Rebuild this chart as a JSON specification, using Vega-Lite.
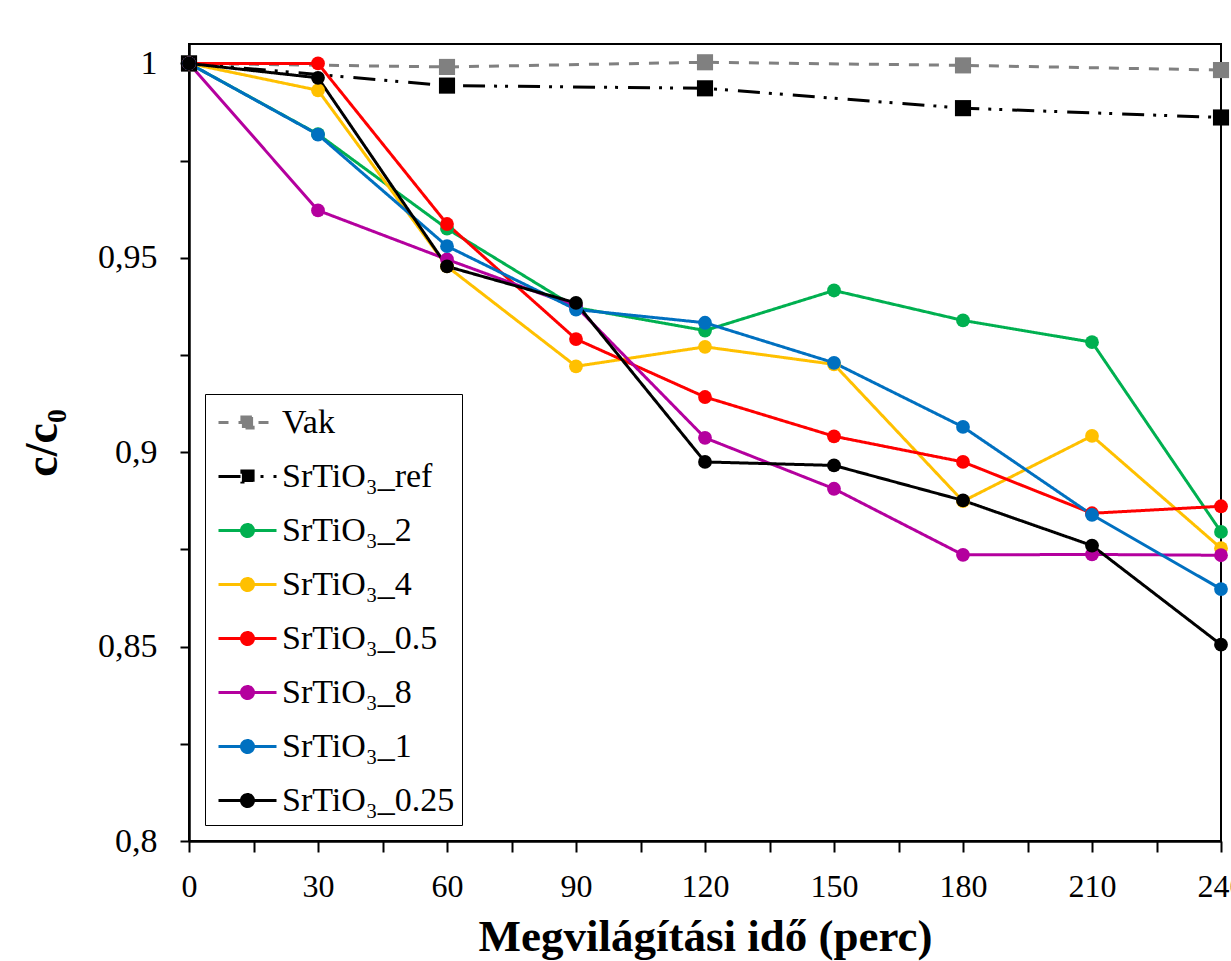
{
  "$schema": "https://vega.github.io/schema/vega-lite/v6.json",
  "width": 1032,
  "height": 797,
  "autosize": {"type": "none"},
  "padding": {"left": 189, "top": 44, "right": 10, "bottom": 120},
  "background": "white",
  "config": {
    "font": "Liberation Serif",
    "view": {"stroke": "black", "strokeWidth": 2},
    "axis": {"domainColor": "black", "domainWidth": 2.5, "tickColor": "black", "tickWidth": 2, "labelColor": "black", "titleColor": "black", "grid": false, "labelFont": "Liberation Serif", "titleFont": "Liberation Serif"}
  },
  "data": {
    "values": [
      {"s": "Vak", "t": 0, "v": 1.0},
      {"s": "Vak", "t": 60, "v": 0.9991},
      {"s": "Vak", "t": 120, "v": 1.0003},
      {"s": "Vak", "t": 180, "v": 0.9995},
      {"s": "Vak", "t": 240, "v": 0.9983},
      {"s": "SrTiO₃_ref", "t": 0, "v": 1.0},
      {"s": "SrTiO₃_ref", "t": 60, "v": 0.9943},
      {"s": "SrTiO₃_ref", "t": 120, "v": 0.9936},
      {"s": "SrTiO₃_ref", "t": 180, "v": 0.9885},
      {"s": "SrTiO₃_ref", "t": 240, "v": 0.9861},
      {"s": "SrTiO₃_2", "t": 0, "v": 1.0},
      {"s": "SrTiO₃_2", "t": 30, "v": 0.9818},
      {"s": "SrTiO₃_2", "t": 60, "v": 0.9575},
      {"s": "SrTiO₃_2", "t": 90, "v": 0.9372},
      {"s": "SrTiO₃_2", "t": 120, "v": 0.9313},
      {"s": "SrTiO₃_2", "t": 150, "v": 0.9416},
      {"s": "SrTiO₃_2", "t": 180, "v": 0.9339},
      {"s": "SrTiO₃_2", "t": 210, "v": 0.9283},
      {"s": "SrTiO₃_2", "t": 240, "v": 0.8795},
      {"s": "SrTiO₃_4", "t": 0, "v": 1.0},
      {"s": "SrTiO₃_4", "t": 30, "v": 0.9931},
      {"s": "SrTiO₃_4", "t": 60, "v": 0.9478},
      {"s": "SrTiO₃_4", "t": 90, "v": 0.9221},
      {"s": "SrTiO₃_4", "t": 120, "v": 0.9271},
      {"s": "SrTiO₃_4", "t": 150, "v": 0.9226},
      {"s": "SrTiO₃_4", "t": 180, "v": 0.8874},
      {"s": "SrTiO₃_4", "t": 210, "v": 0.9042},
      {"s": "SrTiO₃_4", "t": 240, "v": 0.8753},
      {"s": "SrTiO₃_0.5", "t": 0, "v": 1.0},
      {"s": "SrTiO₃_0.5", "t": 30, "v": 1.0},
      {"s": "SrTiO₃_0.5", "t": 60, "v": 0.9587},
      {"s": "SrTiO₃_0.5", "t": 90, "v": 0.9291},
      {"s": "SrTiO₃_0.5", "t": 120, "v": 0.9142},
      {"s": "SrTiO₃_0.5", "t": 150, "v": 0.9041},
      {"s": "SrTiO₃_0.5", "t": 180, "v": 0.8975},
      {"s": "SrTiO₃_0.5", "t": 210, "v": 0.8843},
      {"s": "SrTiO₃_0.5", "t": 240, "v": 0.8861},
      {"s": "SrTiO₃_8", "t": 0, "v": 1.0},
      {"s": "SrTiO₃_8", "t": 30, "v": 0.9622},
      {"s": "SrTiO₃_8", "t": 60, "v": 0.9496},
      {"s": "SrTiO₃_8", "t": 90, "v": 0.9375},
      {"s": "SrTiO₃_8", "t": 120, "v": 0.9037},
      {"s": "SrTiO₃_8", "t": 150, "v": 0.8906},
      {"s": "SrTiO₃_8", "t": 180, "v": 0.8736},
      {"s": "SrTiO₃_8", "t": 210, "v": 0.8737},
      {"s": "SrTiO₃_8", "t": 240, "v": 0.8735},
      {"s": "SrTiO₃_1", "t": 0, "v": 1.0},
      {"s": "SrTiO₃_1", "t": 30, "v": 0.9817},
      {"s": "SrTiO₃_1", "t": 60, "v": 0.953},
      {"s": "SrTiO₃_1", "t": 90, "v": 0.9367},
      {"s": "SrTiO₃_1", "t": 120, "v": 0.9333},
      {"s": "SrTiO₃_1", "t": 150, "v": 0.923},
      {"s": "SrTiO₃_1", "t": 180, "v": 0.9065},
      {"s": "SrTiO₃_1", "t": 210, "v": 0.8839},
      {"s": "SrTiO₃_1", "t": 240, "v": 0.8648},
      {"s": "SrTiO₃_0.25", "t": 0, "v": 1.0},
      {"s": "SrTiO₃_0.25", "t": 30, "v": 0.9963},
      {"s": "SrTiO₃_0.25", "t": 60, "v": 0.9478},
      {"s": "SrTiO₃_0.25", "t": 90, "v": 0.9384},
      {"s": "SrTiO₃_0.25", "t": 120, "v": 0.8975},
      {"s": "SrTiO₃_0.25", "t": 150, "v": 0.8966},
      {"s": "SrTiO₃_0.25", "t": 180, "v": 0.8876},
      {"s": "SrTiO₃_0.25", "t": 210, "v": 0.876},
      {"s": "SrTiO₃_0.25", "t": 240, "v": 0.8505}
    ]
  },
  "encoding": {
    "x": {
      "field": "t", "type": "quantitative",
      "scale": {"domain": [0, 240], "nice": false, "zero": false},
      "axis": {
        "title": "Megvilágítási idő (perc)",
        "titleFontSize": 45, "titleFontWeight": "bold",
        "titleBaseline": "alphabetic", "titleY": 109,
        "values": [0, 15, 30, 45, 60, 75, 90, 105, 120, 135, 150, 165, 180, 195, 210, 225, 240],
        "labelExpr": "datum.value % 30 == 0 ? datum.label : ''",
        "labelFontSize": 32, "labelFlush": false, "labelOverlap": false, "labelBound": false,
        "tickSize": 11, "labelPadding": 44, "labelBaseline": "alphabetic"
      }
    },
    "y": {
      "field": "v", "type": "quantitative",
      "scale": {"domain": [0.8, 1.005], "nice": false, "zero": false},
      "axis": {
        "title": "c/c₀",
        "titleFontSize": 46, "titleFontWeight": "bold",
        "titleBaseline": "alphabetic", "titleX": -133,
        "values": [0.8, 0.825, 0.85, 0.875, 0.9, 0.925, 0.95, 0.975, 1],
        "labelExpr": "round(datum.value*1000) % 50 == 0 ? replace(format(datum.value, '~g'), '.', ',') : ''",
        "labelFontSize": 34, "labelFlush": false, "labelOverlap": false, "labelBound": false,
        "tickSize": 9, "labelPadding": 23
      }
    }
  },
  "layer": [
    {
      "transform": [{"filter": "datum.t == 0"}],
      "mark": {"type": "point", "filled": true, "opacity": 1, "size": 0, "strokeWidth": 3},
      "encoding": {
        "fill": {
          "field": "s", "type": "nominal",
          "scale": {
            "domain": ["Vak", "SrTiO₃_ref", "SrTiO₃_2", "SrTiO₃_4", "SrTiO₃_0.5", "SrTiO₃_8", "SrTiO₃_1", "SrTiO₃_0.25"],
            "range": ["#808080", "#000000", "#00B050", "#FFC000", "#FF0000", "#B4009E", "#0070C0", "#000000"]
          },
          "legend": {
            "title": null, "orient": "none", "legendX": 16, "legendY": 350,
            "strokeColor": "black", "fillColor": "white", "padding": 7,
            "rowPadding": 15, "symbolOffset": 14, "labelOffset": 13,
            "labelFontSize": 34, "labelFont": "Liberation Serif", "labelColor": "black", "labelLimit": 400,
            "symbolSize": 1600, "symbolStrokeWidth": 3
          }
        },
        "stroke": {
          "field": "s", "type": "nominal",
          "scale": {
            "domain": ["Vak", "SrTiO₃_ref", "SrTiO₃_2", "SrTiO₃_4", "SrTiO₃_0.5", "SrTiO₃_8", "SrTiO₃_1", "SrTiO₃_0.25"],
            "range": ["#808080", "#000000", "#00B050", "#FFC000", "#FF0000", "#B4009E", "#0070C0", "#000000"]
          },
          "legend": {
            "title": null, "orient": "none", "legendX": 16, "legendY": 350,
            "strokeColor": "black", "fillColor": "white", "padding": 7,
            "rowPadding": 15, "symbolOffset": 14, "labelOffset": 13,
            "labelFontSize": 34, "labelFont": "Liberation Serif", "labelColor": "black", "labelLimit": 400,
            "symbolSize": 1600, "symbolStrokeWidth": 3
          }
        },
        "shape": {
          "field": "s", "type": "nominal",
          "scale": {
            "domain": ["Vak", "SrTiO₃_ref", "SrTiO₃_2", "SrTiO₃_4", "SrTiO₃_0.5", "SrTiO₃_8", "SrTiO₃_1", "SrTiO₃_0.25"],
            "range": [
              "M-1.45,0H1.45M-0.28,-0.28H0.28V0.28H-0.28Z",
              "M-1.45,0H1.45M-0.28,-0.28H0.28V0.28H-0.28Z",
              "M-1.45,0H1.45M0.3,0A0.3,0.3,0,1,1,-0.3,0A0.3,0.3,0,1,1,0.3,0Z",
              "M-1.45,0H1.45M0.3,0A0.3,0.3,0,1,1,-0.3,0A0.3,0.3,0,1,1,0.3,0Z",
              "M-1.45,0H1.45M0.3,0A0.3,0.3,0,1,1,-0.3,0A0.3,0.3,0,1,1,0.3,0Z",
              "M-1.45,0H1.45M0.3,0A0.3,0.3,0,1,1,-0.3,0A0.3,0.3,0,1,1,0.3,0Z",
              "M-1.45,0H1.45M0.3,0A0.3,0.3,0,1,1,-0.3,0A0.3,0.3,0,1,1,0.3,0Z",
              "M-1.45,0H1.45M0.3,0A0.3,0.3,0,1,1,-0.3,0A0.3,0.3,0,1,1,0.3,0Z"
            ]
          },
          "legend": {
            "title": null, "orient": "none", "legendX": 16, "legendY": 350,
            "strokeColor": "black", "fillColor": "white", "padding": 7,
            "rowPadding": 15, "symbolOffset": 14, "labelOffset": 13,
            "labelFontSize": 34, "labelFont": "Liberation Serif", "labelColor": "black", "labelLimit": 400,
            "symbolSize": 1600, "symbolStrokeWidth": 3
          }
        },
        "strokeDash": {
          "field": "s", "type": "nominal",
          "scale": {
            "domain": ["Vak", "SrTiO₃_ref", "SrTiO₃_2", "SrTiO₃_4", "SrTiO₃_0.5", "SrTiO₃_8", "SrTiO₃_1", "SrTiO₃_0.25"],
            "range": [[10, 10], [22, 9, 3, 8, 3, 10], [1, 0], [1, 0], [1, 0], [1, 0], [1, 0], [1, 0]]
          },
          "legend": {
            "title": null, "orient": "none", "legendX": 16, "legendY": 350,
            "strokeColor": "black", "fillColor": "white", "padding": 7,
            "rowPadding": 15, "symbolOffset": 14, "labelOffset": 13,
            "labelFontSize": 34, "labelFont": "Liberation Serif", "labelColor": "black", "labelLimit": 400,
            "symbolSize": 1600, "symbolStrokeWidth": 3
          }
        }
      }
    },
    {
      "mark": {"type": "line", "strokeWidth": 3},
      "encoding": {
        "color": {
          "field": "s", "type": "nominal", "legend": null,
          "scale": {
            "domain": ["Vak", "SrTiO₃_ref", "SrTiO₃_2", "SrTiO₃_4", "SrTiO₃_0.5", "SrTiO₃_8", "SrTiO₃_1", "SrTiO₃_0.25"],
            "range": ["#808080", "#000000", "#00B050", "#FFC000", "#FF0000", "#B4009E", "#0070C0", "#000000"]
          }
        },
        "strokeDash": {"field": "s", "type": "nominal", "legend": null}
      }
    },
    {
      "transform": [{"filter": "indexof(['Vak', 'SrTiO₃_ref'], datum.s) >= 0"}],
      "mark": {"type": "square", "size": 260, "opacity": 1, "filled": true},
      "encoding": {
        "color": {"field": "s", "type": "nominal", "legend": null}
      }
    },
    {
      "transform": [{"filter": "indexof(['Vak', 'SrTiO₃_ref'], datum.s) < 0"}],
      "mark": {"type": "circle", "size": 190, "opacity": 1},
      "encoding": {
        "color": {"field": "s", "type": "nominal", "legend": null}
      }
    }
  ]
}
